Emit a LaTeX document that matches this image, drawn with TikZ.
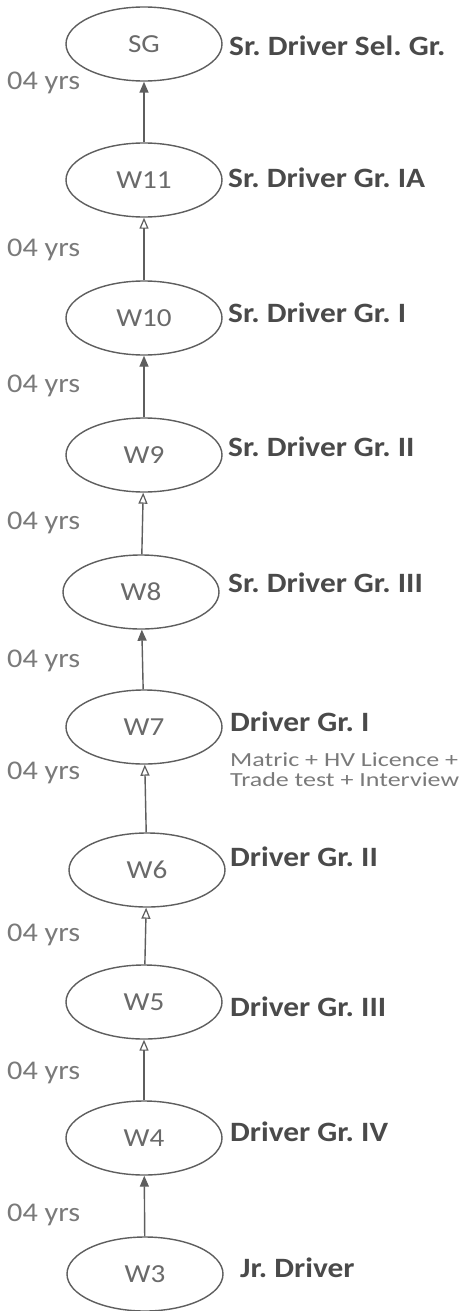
\documentclass[tikz,border=0pt]{standalone}
\usepackage{fontspec}
\setmainfont{Carlito}[FakeStretch=1.12]
\newfontfamily\notefont{Carlito}[FakeStretch=1.3]
\usetikzlibrary{shapes.geometric,arrows.meta}
\definecolor{linegray}{HTML}{5E5E5E}
\definecolor{textgray}{HTML}{6A6A6A}
\definecolor{boldgray}{HTML}{4A4A4A}
\definecolor{yrsgray}{HTML}{7A7A7A}
\tikzset{
  grade/.style={draw=linegray, line width=1.4pt, ellipse, minimum width=156pt, minimum height=74pt, inner sep=0pt, text=textgray, font=\fontsize{26}{30}\selectfont},
  post/.style={anchor=base west, inner sep=0pt, text=boldgray, font=\bfseries\fontsize{28}{32}\selectfont},
  yrs/.style={anchor=base west, inner sep=0pt, text=yrsgray, font=\fontsize{27}{30}\selectfont},
  note/.style={anchor=base west, inner sep=0pt, text=yrsgray, align=left, font=\notefont\fontsize{20}{19.5}\selectfont},
  upfilled/.style={draw=linegray, line width=1.4pt, -{Triangle[length=11pt,width=9pt,fill=linegray]}},
  upopen/.style={draw=linegray, line width=1.4pt, -{Triangle[open,length=11pt,width=9pt,line width=1.2pt]}}
}
\frenchspacing
\begin{document}
\begin{tikzpicture}[x=1pt,y=-1pt]
\useasboundingbox[fill=white] (0,0) rectangle (469,1311);
% grade ellipses
\node[grade] (sg)  at (144,44)   {SG};
\node[grade] (w11) at (144,180)  {W11};
\node[grade] (w10) at (144,318)  {W10};
\node[grade] (w9)  at (144,455)  {W9};
\node[grade] (w8)  at (141,592)  {W8};
\node[grade] (w7)  at (144,727)  {W7};
\node[grade] (w6)  at (147,870)  {W6};
\node[grade] (w5)  at (144,1002) {W5};
\node[grade] (w4)  at (144,1138) {W4};
\node[grade] (w3)  at (145,1274) {W3};
% connectors
\draw[upfilled] (w11) -- (sg);
\draw[upopen]   (w10) -- (w11);
\draw[upfilled] (w9)  -- (w10);
\draw[upopen]   (w8)  -- (w9);
\draw[upfilled] (w7)  -- (w8);
\draw[upopen]   (w6)  -- (w7);
\draw[upopen]   (w5)  -- (w6);
\draw[upopen]   (w4)  -- (w5);
\draw[upfilled] (w3)  -- (w4);
% post labels
\node[post] (psg)  at (229,56)   {Sr. Driver Sel. Gr.};
\node[post] (p11)  at (228,187)  {Sr. Driver Gr. IA};
\node[post] (p10)  at (228,322)  {Sr. Driver Gr. I};
\node[post] (p9)   at (228,456)  {Sr. Driver Gr. II};
\node[post] (p8)   at (228,592)  {Sr. Driver Gr. III};
\node[post] (p7)   at (230,731)  {Driver Gr. I};
\node[post] (p6)   at (230,866)  {Driver Gr. II};
\node[post] (p5)   at (230,1016) {Driver Gr. III};
\node[post] (p4)   at (230,1141) {Driver Gr. IV};
\node[post] (p3)   at (240,1277) {Jr. Driver};
% note
\node[note] (n1) at (230,786) {Matric + HV Licence +\\Trade test + Interview};
% years
\node[yrs] (y1) at (7,90)   {04 yrs};
\node[yrs] (y2) at (7,256)  {04 yrs};
\node[yrs] (y3) at (7,392)  {04 yrs};
\node[yrs] (y4) at (7,529)  {04 yrs};
\node[yrs] (y5) at (7,667)  {04 yrs};
\node[yrs] (y6) at (7,779)  {04 yrs};
\node[yrs] (y7) at (7,941)  {04 yrs};
\node[yrs] (y8) at (7,1079) {04 yrs};
\node[yrs] (y9) at (7,1221) {04 yrs};
\end{tikzpicture}
\end{document}
